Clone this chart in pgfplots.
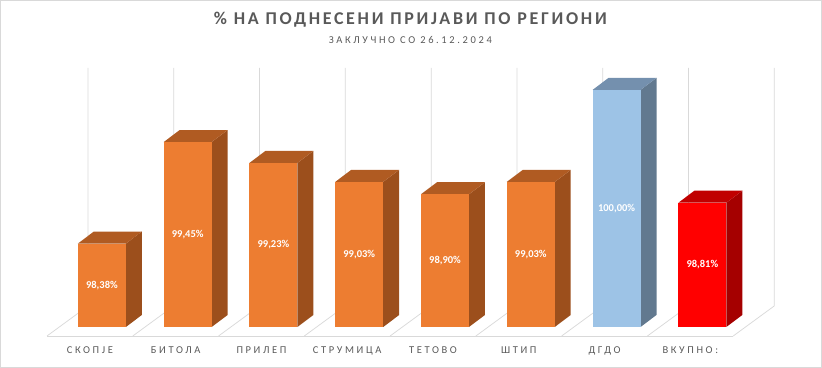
\documentclass[border=0pt]{standalone}
\usepackage{pgfplots}
\pgfplotsset{compat=1.18}
\usepackage{pgfplotstable}
\usepackage{fontspec}
\setmainfont{Carlito}
\newfontfamily\lsfont[LetterSpace=25]{Carlito}
\newfontfamily\titlefont[LetterSpace=15]{Carlito}
\newfontfamily\subfont[LetterSpace=25]{Carlito}
\definecolor{gridc}{HTML}{D9D9D9}
\definecolor{txt}{HTML}{595959}
\definecolor{oF}{HTML}{ED7D31}\definecolor{oS}{HTML}{9C4F1C}\definecolor{oT}{HTML}{B05B22}
\definecolor{bF}{HTML}{9DC3E6}\definecolor{bS}{HTML}{62798F}\definecolor{bT}{HTML}{7490AE}
\definecolor{rF}{HTML}{FF0000}\definecolor{rS}{HTML}{A50000}\definecolor{rT}{HTML}{C00000}
\pgfplotstableread{
i v c
0 98.38 o
1 99.45 o
2 99.23 o
3 99.03 o
4 98.90 o
5 99.03 o
6 100.00 b
7 98.81 r
}\data
\def\base{97.5}
\begin{document}
\begin{tikzpicture}
\begin{axis}[
  scale only axis, width=686pt, height=268pt,
  xmin=-0.5, xmax=7.5, ymin=97.405, ymax=100.232,
  axis x line=bottom, axis y line=none,
  x axis line style={draw=gridc, line width=0.75pt, -},
  clip=false,
  xtick={0,...,7},
  xticklabels={СКОПЈЕ, БИТОЛА, ПРИЛЕП, СТРУМИЦА, ТЕТОВО, ШТИП, ДГДО, ВКУПНО:},
  ytick=\empty,
  major tick length=0pt,
  xticklabel style={font=\lsfont\fontsize{10.5}{12}\selectfont, text=txt, anchor=base, yshift=-17.3pt},
]
% floor diagonals and back wall verticals
\pgfplotsinvokeforeach{0,...,8}{%
  \pgfmathsetmacro\xf{#1-0.5}%
  \pgfmathsetmacro\xb{#1-0.022}%
  \edef\doit{\noexpand\addplot[draw=gridc, line width=0.75pt, mark=none] coordinates {(\xb,100.232) (\xb,97.7215) (\xf,97.405)};}%
  \doit
}
% 3D bars
\pgfplotsinvokeforeach{0,...,7}{%
  \pgfplotstablegetelem{#1}{v}\of\data \let\v\pgfplotsretval
  \pgfplotstablegetelem{#1}{c}\of\data \let\c\pgfplotsretval
  \pgfmathsetmacro\xl{#1-0.1397}%
  \pgfmathsetmacro\xr{#1+0.4197}%
  \pgfmathsetmacro\xrb{#1+0.6057}%
  \pgfmathsetmacro\xlb{#1+0.0463}%
  \pgfmathsetmacro\xc{#1+0.14}%
  \pgfmathsetmacro\bb{\base+0.1266}%
  \pgfmathsetmacro\vt{\v+0.1266}%
  \pgfmathsetmacro\vm{(\v+\base)/2}%
  \edef\doit{%
    \noexpand\addplot[draw=none, fill=\c S, mark=none] coordinates {(\xr,\base) (\xrb,\bb) (\xrb,\vt) (\xr,\v)} --cycle;
    \noexpand\addplot[draw=none, fill=\c T, mark=none] coordinates {(\xl,\v) (\xr,\v) (\xrb,\vt) (\xlb,\vt)} --cycle;
    \noexpand\addplot[draw=none, fill=\c F, mark=none] coordinates {(\xl,\base) (\xr,\base) (\xr,\v) (\xl,\v)} --cycle;
    \noexpand\node[text=white, font=\noexpand\bfseries\noexpand\fontsize{10.5}{12}\noexpand\selectfont] at (axis cs:\xc,\vm) {\noexpand\pgfmathprintnumber[fixed,fixed zerofill,precision=2,use comma,assume math mode=true]{\v}\noexpand\%};
  }%
  \doit
}
% titles
\node[anchor=base, text=txt, font=\titlefont\bfseries\fontsize{18}{20}\selectfont] at (axis cs:3.736,100.693) {\% НА ПОДНЕСЕНИ ПРИЈАВИ ПО РЕГИОНИ};
\node[anchor=base, text=txt, font=\subfont\fontsize{10.5}{12}\selectfont] at (axis cs:3.736,100.485) {ЗАКЛУЧНО СО 26.12.2024};
% chart border
\draw[gridc, line width=0.75pt] (axis cs:-1.0437,97.0728) rectangle (axis cs:8.5306,100.944);
\end{axis}
\end{tikzpicture}
\end{document}
